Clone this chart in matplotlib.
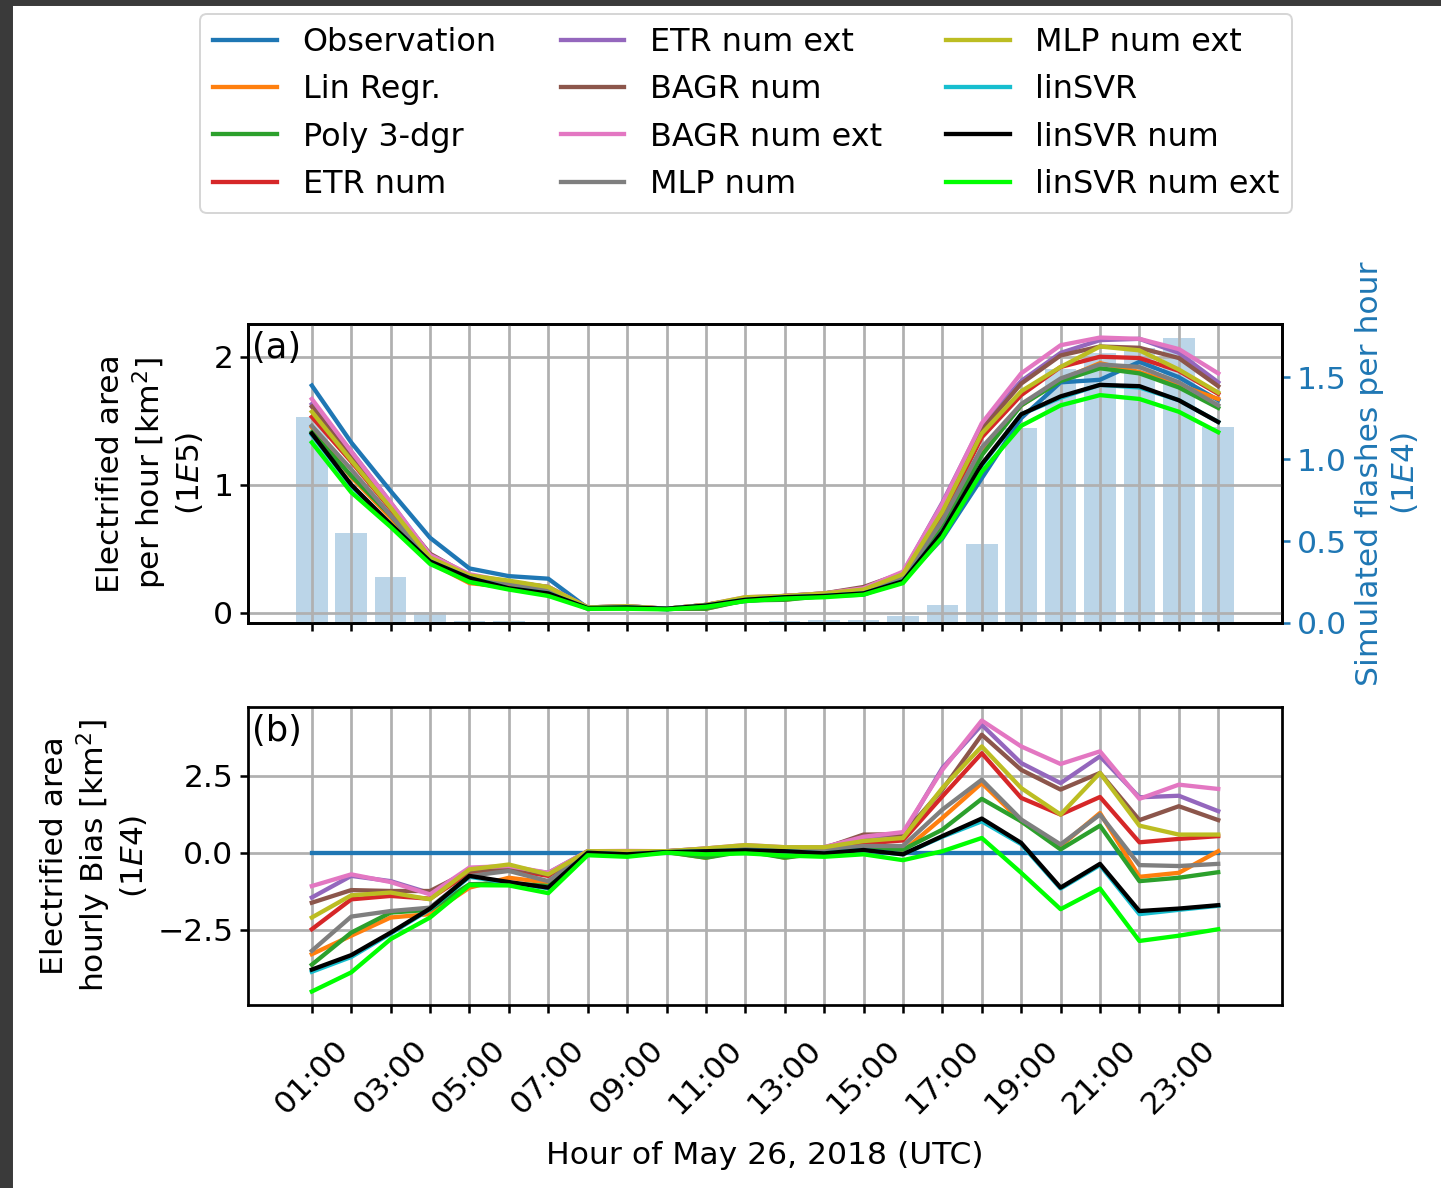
import numpy as np
import matplotlib
matplotlib.use("Agg")
import matplotlib.pyplot as plt
from matplotlib.patches import Rectangle

# hours of the day (01:00 .. 24:00)
hours = list(range(1, 25))
tick_labels = ['01:00', '', '03:00', '', '05:00', '', '07:00', '', '09:00', '', '11:00', '',
               '13:00', '', '15:00', '', '17:00', '', '19:00', '', '21:00', '', '23:00', '']

names = ['Observation', 'Lin Regr.', 'Poly 3-dgr', 'ETR num', 'ETR num ext', 'BAGR num',
         'BAGR num ext', 'MLP num', 'MLP num ext', 'linSVR', 'linSVR num', 'linSVR num ext']
colors = ['tab:blue', 'tab:orange', 'tab:green', 'tab:red', 'tab:purple', 'tab:brown',
          'tab:pink', 'tab:gray', 'tab:olive', 'tab:cyan', 'black', '#00ff00']

# simulated flashes per hour (1E4)
flashes = [1.26, 0.55, 0.28, 0.065, 0.015, 0.01, 0.0, 0.0, 0.0, 0.0, 0.0, 0.003,
           0.01, 0.016, 0.016, 0.043, 0.11, 0.48, 1.19, 1.55, 1.65, 1.68, 1.74, 1.20]

# electrified area per hour (1E5 km2)
obs = [1.775, 1.33, 0.95, 0.585, 0.345, 0.285, 0.265, 0.035, 0.045, 0.025, 0.05, 0.09,
       0.115, 0.13, 0.14, 0.25, 0.58, 1.05, 1.52, 1.80, 1.82, 1.96, 1.84, 1.66]
lin_regr = [1.45, 1.06, 0.74, 0.39, 0.23, 0.20, 0.17, 0.035, 0.04, 0.03, 0.03, 0.10,
            0.10, 0.14, 0.16, 0.26, 0.69, 1.28, 1.62, 1.82, 1.95, 1.88, 1.78, 1.67]
poly3 = [1.41, 1.07, 0.76, 0.40, 0.24, 0.19, 0.16, 0.03, 0.035, 0.03, 0.03, 0.095,
         0.10, 0.13, 0.15, 0.26, 0.66, 1.23, 1.62, 1.81, 1.91, 1.87, 1.76, 1.60]
etr = [1.53, 1.18, 0.81, 0.44, 0.28, 0.23, 0.19, 0.04, 0.045, 0.03, 0.06, 0.11,
       0.13, 0.14, 0.17, 0.29, 0.76, 1.37, 1.70, 1.92, 2.00, 1.99, 1.89, 1.71]
etr_ext = [1.63, 1.26, 0.86, 0.45, 0.29, 0.24, 0.20, 0.04, 0.05, 0.03, 0.06, 0.11,
           0.13, 0.15, 0.19, 0.31, 0.86, 1.47, 1.81, 2.03, 2.13, 2.14, 2.03, 1.80]
bagr = [1.61, 1.21, 0.83, 0.46, 0.29, 0.24, 0.20, 0.04, 0.05, 0.03, 0.06, 0.11,
        0.13, 0.15, 0.20, 0.31, 0.79, 1.43, 1.79, 2.01, 2.08, 2.07, 1.99, 1.77]
bagr_ext = [1.67, 1.26, 0.86, 0.45, 0.30, 0.24, 0.20, 0.04, 0.05, 0.03, 0.06, 0.12,
            0.13, 0.15, 0.19, 0.32, 0.85, 1.48, 1.87, 2.09, 2.15, 2.14, 2.06, 1.87]
mlp = [1.46, 1.12, 0.76, 0.41, 0.27, 0.23, 0.17, 0.04, 0.045, 0.03, 0.055, 0.105,
       0.125, 0.14, 0.16, 0.27, 0.72, 1.29, 1.63, 1.83, 1.94, 1.92, 1.80, 1.62]
mlp_ext = [1.57, 1.19, 0.82, 0.43, 0.29, 0.25, 0.20, 0.04, 0.05, 0.03, 0.06, 0.12,
           0.13, 0.15, 0.18, 0.30, 0.79, 1.40, 1.73, 1.92, 2.08, 2.05, 1.90, 1.72]
linsvr = [1.39, 0.99, 0.69, 0.40, 0.27, 0.19, 0.15, 0.035, 0.04, 0.03, 0.055, 0.10,
          0.12, 0.13, 0.15, 0.245, 0.63, 1.15, 1.55, 1.68, 1.78, 1.76, 1.66, 1.49]
linsvr_num = [1.40, 1.00, 0.69, 0.40, 0.27, 0.19, 0.15, 0.035, 0.04, 0.03, 0.055, 0.10,
              0.12, 0.13, 0.15, 0.245, 0.63, 1.16, 1.55, 1.69, 1.78, 1.77, 1.66, 1.49]
linsvr_ext = [1.33, 0.94, 0.67, 0.38, 0.24, 0.18, 0.13, 0.03, 0.03, 0.025, 0.045, 0.09,
              0.11, 0.12, 0.14, 0.23, 0.59, 1.10, 1.46, 1.62, 1.70, 1.67, 1.57, 1.41]
area = [obs, lin_regr, poly3, etr, etr_ext, bagr, bagr_ext, mlp, mlp_ext,
        linsvr, linsvr_num, linsvr_ext]

# hourly bias (1E4 km2)
b_obs = [0.0] * 24
b_lin_regr = [-3.29, -2.69, -2.10, -1.99, -1.13, -0.81, -0.97, 0.0, -0.08, 0.03, -0.16, 0.10,
              -0.16, 0.05, 0.15, 0.05, 1.13, 2.26, 1.02, 0.22, 1.29, -0.78, -0.65, 0.05]
b_poly3 = [-3.63, -2.59, -1.94, -1.85, -1.02, -0.99, -1.08, -0.05, -0.10, 0.02, -0.16, 0.05,
           -0.16, 0.0, 0.12, 0.10, 0.75, 1.75, 1.02, 0.11, 0.88, -0.92, -0.81, -0.63]
b_etr = [-2.48, -1.51, -1.40, -1.49, -0.65, -0.54, -0.75, 0.05, 0.0, 0.05, 0.10, 0.20,
         0.12, 0.12, 0.30, 0.40, 1.83, 3.23, 1.78, 1.24, 1.81, 0.34, 0.45, 0.54]
b_etr_ext = [-1.45, -0.75, -0.92, -1.31, -0.55, -0.48, -0.65, 0.05, 0.05, 0.05, 0.14, 0.22,
             0.15, 0.18, 0.50, 0.60, 2.75, 4.15, 2.91, 2.26, 3.13, 1.80, 1.85, 1.35]
b_bagr = [-1.62, -1.21, -1.24, -1.24, -0.59, -0.48, -0.70, 0.05, 0.05, 0.05, 0.12, 0.22,
          0.15, 0.15, 0.59, 0.60, 2.05, 3.83, 2.69, 2.05, 2.59, 1.06, 1.51, 1.06]
b_bagr_ext = [-1.08, -0.70, -0.95, -1.35, -0.48, -0.43, -0.65, 0.05, 0.06, 0.05, 0.14, 0.25,
              0.18, 0.18, 0.52, 0.67, 2.69, 4.29, 3.45, 2.88, 3.29, 1.75, 2.21, 2.07]
b_mlp = [-3.18, -2.07, -1.89, -1.78, -0.75, -0.59, -0.92, 0.03, 0.0, 0.03, 0.05, 0.15,
         0.10, 0.10, 0.22, 0.22, 1.40, 2.37, 1.08, 0.27, 1.24, -0.40, -0.43, -0.36]
b_mlp_ext = [-2.10, -1.38, -1.29, -1.51, -0.54, -0.38, -0.70, 0.05, 0.05, 0.05, 0.14, 0.25,
             0.18, 0.18, 0.38, 0.48, 2.10, 3.45, 2.10, 1.24, 2.59, 0.88, 0.59, 0.59]
b_linsvr = [-3.86, -3.38, -2.62, -1.83, -0.78, -0.97, -1.15, 0.0, -0.05, 0.02, 0.05, 0.08,
            0.05, -0.02, 0.09, -0.05, 0.52, 1.02, 0.28, -1.16, -0.40, -1.99, -1.85, -1.72]
b_linsvr_num = [-3.79, -3.32, -2.59, -1.81, -0.75, -0.95, -1.13, 0.0, -0.05, 0.02, 0.05, 0.08,
                0.05, -0.02, 0.09, -0.05, 0.54, 1.11, 0.32, -1.13, -0.36, -1.89, -1.81, -1.70]
b_linsvr_ext = [-4.50, -3.88, -2.80, -2.10, -1.05, -1.06, -1.31, -0.08, -0.13, 0.0, -0.05, -0.02,
                -0.09, -0.13, -0.05, -0.24, 0.05, 0.48, -0.65, -1.83, -1.16, -2.86, -2.69, -2.48]
bias = [b_obs, b_lin_regr, b_poly3, b_etr, b_etr_ext, b_bagr, b_bagr_ext, b_mlp, b_mlp_ext,
        b_linsvr, b_linsvr_num, b_linsvr_ext]

plt.rcParams['font.size'] = 16
plt.rcParams['axes.linewidth'] = 1.4
plt.rcParams['xtick.major.width'] = 1.3
plt.rcParams['ytick.major.width'] = 1.3
plt.rcParams['xtick.major.size'] = 4
plt.rcParams['ytick.major.size'] = 4

dpi = 141
fig = plt.figure(figsize=(1441 / dpi, 1188 / dpi), dpi=dpi)

# screenshot frame
fig.patches.append(Rectangle((0, 0), 12 / 1441, 1, transform=fig.transFigure,
                             color='#3a3a3a', zorder=-10))
fig.patches.append(Rectangle((0, 1 - 5 / 1188), 1, 5 / 1188, transform=fig.transFigure,
                             color='#3a3a3a', zorder=-10))

ax1 = fig.add_axes([0.1721, 0.4756, 0.7176, 0.2517])
ax3 = fig.add_axes([0.1721, 0.1540, 0.7176, 0.2509], sharex=ax1)

# (a) area + flashes
ax2 = ax1.twinx()
ax2.bar(hours, flashes, width=0.8, color='tab:blue', alpha=0.3)
ax2.set_ylabel('Simulated flashes per hour\n($1E4$)', color='tab:blue')
ax2.tick_params(axis='y', colors='tab:blue')
ax2.spines['right'].set_color('black')
ax1.set_zorder(ax2.get_zorder() + 1)
ax1.patch.set_visible(False)

handles = []
for vals, name, c in zip(area, names, colors):
    h, = ax1.plot(hours, vals, color=c, lw=2.2, label=name)
    handles.append(h)
ax1.grid(True, color='#b0b0b0', lw=1.4)
ax1.set_ylabel('Electrified area\nper hour [km$^2$]\n($1E5$)')
ax1.text(0.004, 0.975, '(a)', transform=ax1.transAxes, ha='left', va='top', fontsize=18)
plt.setp(ax1.get_xticklabels(), visible=False)

# (b) bias
for vals, name, c in zip(bias, names, colors):
    ax3.plot(hours, vals, color=c, lw=2.2)
ax3.grid(True, color='#b0b0b0', lw=1.4)
ax3.set_ylabel('Electrified area\nhourly Bias [km$^2$]\n($1E4$)')
ax3.text(0.004, 0.975, '(b)', transform=ax3.transAxes, ha='left', va='top', fontsize=18)
ax3.set_xticks(hours)
ax3.set_xticklabels(tick_labels, rotation=45, ha='center')
ax3.tick_params(axis='x', pad=11)
ax3.set_xlim(-0.62, 25.62)
ax3.set_xlabel('Hour of May 26, 2018 (UTC)', labelpad=11)

fig.legend(handles, names, loc='upper center', bbox_to_anchor=(0.518, 0.988),
           ncol=3, fontsize=16.3, labelspacing=0.51, borderaxespad=0)

fig.savefig('out.png', dpi=dpi)
